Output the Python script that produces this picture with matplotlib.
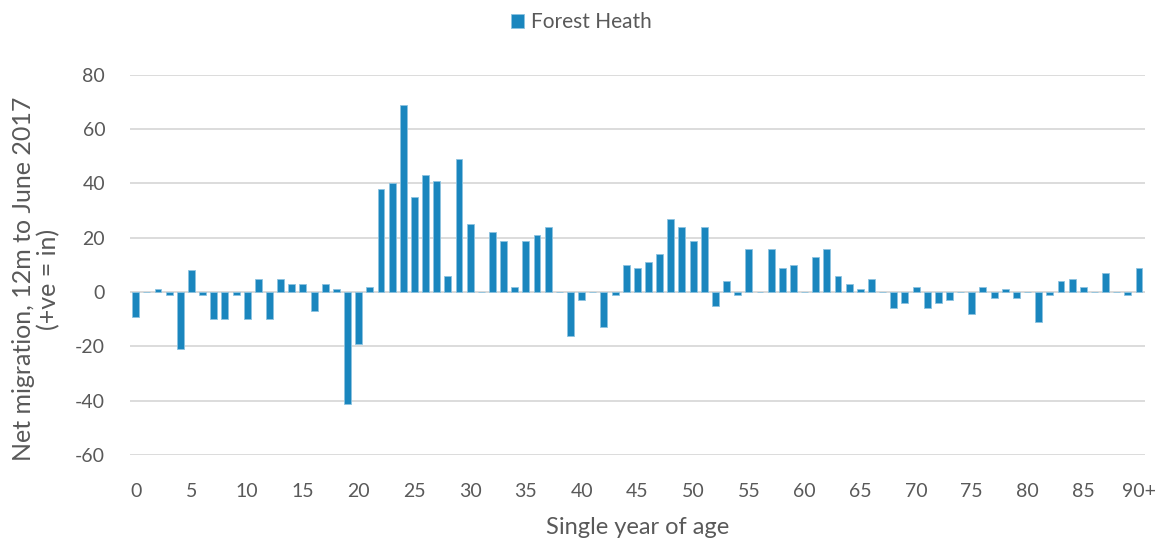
import numpy as np
import matplotlib.pyplot as plt

plt.rcParams['font.family'] = ['Lato', 'DejaVu Sans']
plt.rcParams['axes.unicode_minus'] = False

# Net migration by single year of age, 0 .. 90+
ages = list(range(91))
net_migration = [
    -9, 0, 1, -1, -21, 8, -1, -10, -10, -1,
    -10, 5, -10, 5, 3, 3, -7, 3, 1, -41,
    -19, 2, 38, 40, 69, 35, 43, 41, 6, 49,
    25, 0, 22, 19, 2, 19, 21, 24, 0, -16,
    -3, 0, -13, -1, 10, 9, 11, 14, 27, 24,
    19, 24, -5, 4, -1, 16, 0, 16, 9, 10,
    0, 13, 16, 6, 3, 1, 5, 0, -6, -4,
    2, -6, -4, -3, 0, -8, 2, -2, 1, -2,
    0, -11, -1, 4, 5, 2, 0, 7, 0, -1,
    9,
]
tick_pos = list(range(0, 91, 5))
tick_labels = [str(t) for t in range(0, 90, 5)] + ["90+"]

bar_color = "#1a86be"
text_color = "#595959"

fig = plt.figure(figsize=(11.62, 5.38), dpi=100)
ax = fig.add_axes([0.112, 0.154, 0.873, 0.707])

ax.bar(ages, net_migration, width=0.62, color=bar_color,
       edgecolor="#8cc3e0", linewidth=0.6, label="Forest Heath", zorder=3)

ax.set_xlim(-0.5, 90.5)
ax.set_ylim(-60, 80)
ax.set_yticks(range(-60, 81, 20))
ax.set_xticks(tick_pos)
ax.set_xticklabels(tick_labels)
ax.grid(axis="y", color="#d9d9d9", linewidth=1.3, zorder=0)
ax.axhline(0, color="#d9d9d9", linewidth=1.3, zorder=1)
for s in ax.spines.values():
    s.set_visible(False)
ax.tick_params(length=0, labelsize=14, colors=text_color)
ax.tick_params(axis="x", pad=20)
ax.tick_params(axis="y", pad=18)

ax.set_xlabel("Single year of age", fontsize=17, color=text_color, labelpad=12)
ax.set_ylabel("Net migration, 12m to June 2017\n(+ve = in)", fontsize=18,
              color=text_color, labelpad=11, linespacing=1.1)
ax.yaxis.label.set_y(0.463)

leg = fig.legend(loc="upper center", bbox_to_anchor=(0.5, 1.012), frameon=False,
                 fontsize=15, handlelength=0.65, handleheight=0.65,
                 handletextpad=0.3, labelcolor=text_color)

fig.savefig("out.png", dpi=100)
